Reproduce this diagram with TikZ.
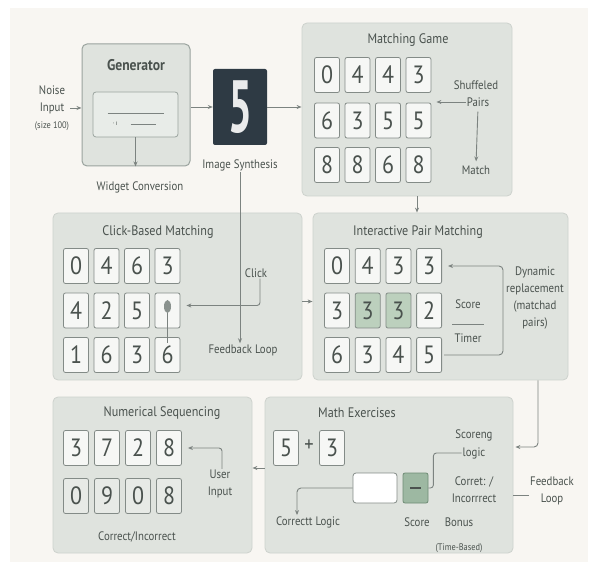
\documentclass[tikz,border=0pt]{standalone}
\usepackage{fontspec}
\setmainfont{PT Sans}[FakeStretch=0.88]
\usepackage{xcolor}
\usetikzlibrary{positioning,calc,arrows.meta,shapes.geometric}
\definecolor{canvas}{HTML}{F8F6F2}
\definecolor{pfill}{HTML}{DFE3DE}
\definecolor{pline}{HTML}{CDD2CD}
\definecolor{gfill}{HTML}{D8DEDA}
\definecolor{gline}{HTML}{9AA39E}
\definecolor{wfill}{HTML}{E8ECE8}
\definecolor{cfill}{HTML}{F6F7F5}
\definecolor{cline}{HTML}{838B87}
\definecolor{cgrey}{HTML}{E7EAE6}
\definecolor{cgreen}{HTML}{BCD0BD}
\definecolor{sgreen}{HTML}{9DB8A2}
\definecolor{sline}{HTML}{6F8C75}
\definecolor{slate}{HTML}{2E3A44}
\definecolor{ink}{HTML}{4A524E}
\definecolor{agrey}{HTML}{7C8380}
\definecolor{dotc}{HTML}{8A928E}

\begin{document}
\begin{tikzpicture}[x=1pt, y=-1pt, >=Stealth, text=ink,
  panel/.style={draw=pline, fill=pfill, rounded corners=5pt, line width=0.8pt, inner sep=0pt},
  card/.style={draw=cline, fill=cfill, rounded corners=2pt, line width=0.8pt,
               minimum width=25pt, minimum height=35pt, inner sep=0pt,
               font=\fontsize{25}{25}\selectfont},
  ttl/.style={font=\fontsize{13.8}{16}\selectfont},
  lbl/.style={font=\fontsize{12.3}{17}\selectfont, align=center, inner sep=1pt},
  smalllbl/.style={font=\fontsize{9.5}{11}\selectfont, inner sep=1pt},
  dotmark/.style={ellipse, fill=dotc, minimum width=7pt, minimum height=13pt, inner sep=0pt},
  arr/.style={-{Stealth[length=5pt,width=4pt]}, line width=0.9pt, draw=agrey},
  link/.style={line width=0.9pt, draw=agrey}]
  \useasboundingbox (0,0) rectangle (600,569);
  \fill[canvas] (10,8) rectangle (588,562);
  % --- generator and image (top left)
  \node[lbl] (noise) at (52,108) {Noise\\Input\\{\fontsize{9.5}{10}\selectfont(size 100)}};
  \node[panel, draw=gline, line width=1pt, minimum width=108pt, minimum height=122pt] (gen) at (136,105) {};
  \node[font=\fontsize{15.5}{17}\selectfont\bfseries] (gent) at (136,65) {Generator};
  \node[draw=gline, fill=wfill, rounded corners=3pt, line width=0.8pt,
        minimum width=85pt, minimum height=45pt] (widget) at (135.5,114.5) {};
  \draw[link, line width=0.7pt] ([xshift=-28pt,yshift=1.5pt]widget.center) -- ++(56,0);
  \draw[link, line width=0.7pt] ([xshift=-5pt,yshift=-9.5pt]widget.center) -- ++(25,0);
  \node[smalllbl, font=\fontsize{7}{7}\selectfont] (wdot) at (115,124) {·\,ı};
  \node[lbl] (wconv) at (140,187) {Widget Conversion};
  \node[fill=slate, rounded corners=2pt, minimum width=54pt, minimum height=76pt, inner sep=0pt,
        text=white!90!slate] (img) at (240,107)
        {\scalebox{0.65}[1]{\fontsize{74}{74}\selectfont\bfseries 5}};
  \node[lbl] (isyn) at (240,165) {Image Synthesis};
  \draw[arr] (noise.east) -- (noise.east -| gen.west);
  \draw[arr] (widget.south) -- (widget.south |- gen.south);
  \draw[arr] (gen.east |- img) -- (img);
  % --- matching game (top right)
  \node[panel, minimum width=210pt, minimum height=173pt] (mg) at (407,109.5) {};
  \node[ttl] (mgt) at (408,40) {Matching Game};
  \foreach \r/\y/\ds in {1/75/{0,4,4,3},2/120.5/{6,3,5,5},3/165/{8,8,6,8}}
    \foreach \dg [count=\c] in \ds
      \node[card] (mg-\r-\c) at ({296.5+30.5*\c},\y) {\dg};
  \node[lbl] (shuf) at (476,85) {Shuffeled};
  \node[lbl] (pairs) at (478,102) {Pairs};
  \node[lbl] (match) at (476,170) {Match};
  \draw[arr] (img.east) -- (img.east -| mg.west);
  \draw[arr, shorten >=5pt] (pairs.west) -- (pairs.west -| mg-2-4.east);
  \draw[arr, shorten <=4pt, shorten >=3pt] (pairs.south) -- (match.north);
  % --- click-based matching (middle left)
  \node[panel, minimum width=249pt, minimum height=167pt] (cb) at (177.5,296.5) {};
  \node[ttl] (cbt) at (158,232) {Click-Based Matching};
  \foreach \r/\y/\ds in {1/266/{0,4,6,3},2/310.5/{4,2,5,{}},3/355/{1,6,3,6}}
    \foreach \dg [count=\c] in \ds
      \node[card] (cb-\r-\c) at ({45.5+30.5*\c},\y) {\dg};
  \node[dotmark] (cbdot) at ([yshift=4pt]cb-2-4) {};
  \draw[link, line width=0.6pt] (cbdot.south) -- ++(0,30);
  \node[lbl] (click) at (256,273) {Click};
  \node[lbl] (fbloop) at (243,350) {Feedback Loop};
  \draw[arr, rounded corners=3pt] ([xshift=4pt]click.south) |- ([xshift=6pt,yshift=5pt]cb-2-4.east);
  \draw[arr] (isyn.south) -- (isyn.south |- fbloop.north);
  % --- interactive pair matching (middle right)
  \node[panel, minimum width=255pt, minimum height=167pt] (ip) at (440.5,296.5) {};
  \node[ttl] (ipt) at (418,232) {Interactive Pair Matching};
  \foreach \r/\y/\ds in {1/266/{0/cfill,4/cfill,3/cfill,3/cfill},
                         2/310.5/{3/cfill,3/cgreen,3/cgreen,2/cfill},
                         3/355/{6/cfill,3/cfill,4/cfill,5/cfill}}
    \foreach \dg/\f [count=\c] in \ds
      \node[card, fill=\f] (ip-\r-\c) at ({306.3+30.7*\c},\y) {\dg};
  \node[lbl] (score) at (468,304) {Score};
  \node[lbl] (timer) at (468,338) {Timer};
  \draw[link, line width=0.6pt] ($(score)!0.5!(timer)+(-16,3)$) -- ++(32,0);
  \node[lbl] (dyn) at (535,298) {Dynamic\\replacement\\(matchad\\pairs)};
  \draw[arr] ([xshift=10pt]mg.south) -- ([xshift=10pt]mg.south |- ip.north);
  \draw[arr] ([yshift=-5pt]cb.east) -- ([yshift=-5pt]ip.west);
  \draw[arr, rounded corners=4pt] ([xshift=2pt]ip-3-4.east) -- ++(59,0) |- ([xshift=6pt]ip-1-4.east);
  % --- numerical sequencing (bottom left)
  \node[panel, minimum width=199pt, minimum height=156pt] (ns) at (152.5,475) {};
  \node[ttl] (nst) at (162,413) {Numerical Sequencing};
  \foreach \r/\y/\f/\ds in {1/448/cfill/{3,7,2,8},2/496/cgrey/{0,9,0,8}}
    \foreach \dg [count=\c] in \ds
      \node[card, fill=\f] (ns-\r-\c) at ({45+31*\c},\y) {\dg};
  \node[lbl] (user) at (220,484) {User\\Input};
  \node[lbl] (ci) at (137,537) {Correct/Incorrect};
  \draw[arr, rounded corners=3pt] ([xshift=2pt]user.north) |- ([xshift=6pt]ns-1-4.east);
  % --- math exercises (bottom right)
  \node[panel, minimum width=248pt, minimum height=156pt] (me) at (389,475) {};
  \node[ttl] (met) at (357,413) {Math Exercises};
  \node[card] (me-a) at (286,448) {5};
  \node[font=\fontsize{21}{21}\selectfont] (plus) at (309,446) {+};
  \node[card] (me-b) at (332,448) {3};
  \node[draw=cline, fill=white, rounded corners=3pt, line width=0.8pt,
        minimum width=44pt, minimum height=30pt] (ans) at (375,488) {};
  \node[draw=sline, fill=sgreen, rounded corners=2pt, line width=0.8pt,
        minimum width=25pt, minimum height=30pt, inner sep=0pt] (sc) at (415.5,488) {\rule{11pt}{1.5pt}};
  \node[lbl] (scoreng) at (474,435) {Scoreng};
  \node[lbl] (logic) at (474,453) {logic};
  \node[lbl] (corr) at (474,490) {Corret: /\\Incorrrect};
  \node[lbl] (fb) at (552,491) {Feedback\\Loop};
  \node[lbl] (clog) at (308,522) {Correctt Logic};
  \node[lbl] (scl) at (417,522) {Score};
  \node[lbl] (bonus) at (459,522) {Bonus};
  \node[smalllbl] (tb) at (459,548) {(Time-Based)};
  \draw[link, rounded corners=3pt] (sc.east) -- ++(5,0) |- (logic.west);
  \draw[link] ([yshift=-4pt]fb.west) -- ([yshift=-4pt]fb.west -| me.east);
  \draw[arr, rounded corners=4pt] (ans.west) -| ([xshift=-11pt]clog.north);
  \draw[arr, rounded corners=4pt] ([xshift=97.5pt]ip.south) |- ([xshift=2pt,yshift=28pt]me.east);
  \draw[arr] ([yshift=7pt]me.west) -- ([yshift=7pt]ns.east);
\end{tikzpicture}
\end{document}
